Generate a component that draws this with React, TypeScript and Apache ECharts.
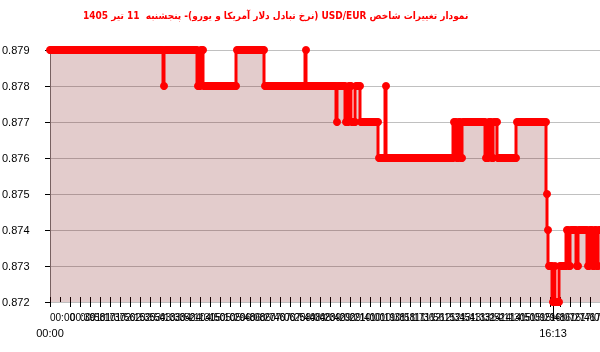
import React, { useEffect, useRef } from "react";
import * as echarts from "echarts";

// Title (Persian, right-to-left)
const titleText =
  "نمودار تغییرات شاخص USD/EUR (نرخ تبادل دلار آمریکا و یورو)- پنجشنبه  11 تیر 1405";

// Y axis
const yMin = 0.872;
const yMax = 0.879;
const yStep = 0.001;

// Readable time labels on the x axis: [label, category index]
const timeAnchors: [string, number][] = [
  ["00:00", 0],
  ["16:13", 503],
];

// Series as runs: value and how many consecutive samples hold it
const runValues = [
  0.879, 0.878, 0.879, 0.878, 0.879, 0.878, 0.879, 0.878, 0.879, 0.878,
  0.877, 0.878, 0.877, 0.878, 0.877, 0.878, 0.877, 0.876, 0.878, 0.876,
  0.877, 0.876, 0.877, 0.876, 0.877, 0.876, 0.877, 0.876, 0.877, 0.876,
  0.877, 0.875, 0.874, 0.873, 0.872, 0.873, 0.872, 0.873, 0.874, 0.873,
  0.874, 0.873, 0.874, 0.873, 0.874, 0.873, 0.874, 0.873, 0.874,
];
const runLengths = [
  114, 1, 33, 3, 3, 33, 28, 41, 1, 30,
  1, 8, 3, 3, 4, 5, 18, 7, 1, 67,
  3, 2, 2, 2, 23, 3, 3, 2, 4, 19,
  30, 1, 1, 4, 2, 1, 4, 7, 2, 2,
  6, 2, 9, 2, 3, 2, 2, 2, 2,
];

function pad(n: number) {
  return (n < 10 ? "0" : "") + n;
}
function toMinutes(s: string) {
  const [h, m] = s.split(":").map(Number);
  return h * 60 + m;
}

export default function App() {
  const ref = useRef<HTMLDivElement>(null);

  useEffect(() => {
    if (!ref.current) return;
    const chart = echarts.init(ref.current, undefined, { renderer: "svg" });

    const values: number[] = [];
    runValues.forEach((v, k) => {
      for (let j = 0; j < runLengths[k]; j++) values.push(v);
    });

    const [aLabel, aIdx] = timeAnchors[0];
    const [bLabel, bIdx] = timeAnchors[1];
    const aMin = toMinutes(aLabel);
    const bMin = toMinutes(bLabel);
    const categories = values.map((_, i) => {
      const m = Math.round(aMin + ((bMin - aMin) * (i - aIdx)) / (bIdx - aIdx));
      return pad(Math.floor(m / 60)) + ":" + pad(m % 60);
    });
    const minVal = Math.min(...values);
    const minIdx = values.indexOf(minVal);
    const marked = new Set<number>([aIdx, minIdx]);

    const font = "Liberation Sans, Arial, sans-serif";

    chart.setOption({
      animation: false,
      title: {
        text: "\u202B" + titleText + "\u202C",
        left: 78,
        top: 5,
        textStyle: {
          color: "#ff0000",
          fontSize: 10,
          fontWeight: "bold",
          fontFamily: "DejaVu Sans Condensed, DejaVu Sans, sans-serif",
        },
      },
      grid: {
        left: 50,
        right: 0,
        top: 50,
        bottom: 50,
        containLabel: false,
        outerBoundsMode: "none",
      },
      xAxis: [
        {
          type: "category",
          data: categories,
          boundaryGap: false,
          axisLine: { show: false },
          axisTick: {
            show: true,
            interval: 9,
            length: 5,
            lineStyle: { color: "#000" },
          },
          axisLabel: {
            interval: 9,
            align: "left",
            margin: 10,
            fontSize: 10,
            color: "#000",
            fontFamily: font,
            showMinLabel: true,
            hideOverlap: false,
          },
          splitLine: { show: false },
        },
        {
          type: "category",
          data: categories,
          boundaryGap: false,
          position: "bottom",
          axisLine: { show: false },
          axisTick: {
            show: true,
            inside: true,
            interval: 9,
            length: 5,
            lineStyle: { color: "#000" },
          },
          axisLabel: { show: false },
          splitLine: { show: false },
        },
        {
          type: "category",
          data: categories,
          boundaryGap: false,
          position: "bottom",
          axisLine: { show: false },
          axisTick: {
            show: true,
            interval: (i: number) => i === minIdx,
            length: 18,
            lineStyle: { color: "#000" },
          },
          axisLabel: {
            interval: (i: number) => marked.has(i),
            margin: 25,
            fontSize: 11,
            color: "#000",
            fontFamily: font,
          },
          splitLine: { show: false },
        },
      ],
      yAxis: {
        type: "value",
        min: yMin,
        max: yMax,
        interval: yStep,
        axisLine: { show: true, lineStyle: { color: "#7a7a7a" } },
        axisTick: { show: true, length: 5, lineStyle: { color: "#000" } },
        axisLabel: {
          align: "left",
          margin: 48,
          fontSize: 11,
          color: "#000",
          fontFamily: font,
          verticalAlign: "middle",
          padding: [0, 0, 8, 0],
          formatter: (v: number) => v.toFixed(3),
        },
        splitLine: { show: true, lineStyle: { color: "#c0c0c0", width: 1 } },
      },
      series: [
        {
          type: "line",
          xAxisIndex: 0,
          data: values,
          step: "start",
          showSymbol: true,
          showAllSymbol: true,
          symbol: "circle",
          symbolSize: 8,
          lineStyle: { color: "#f00", width: 3 },
          itemStyle: { color: "#f00" },
          areaStyle: { color: "rgba(117,0,0,0.2)", opacity: 1, origin: "start" },
        },
      ],
    });

    return () => chart.dispose();
  }, []);

  return (
    <div
      ref={ref}
      style={{ position: "fixed", left: 0, top: 0, width: 600, height: 352 }}
    />
  );
}
